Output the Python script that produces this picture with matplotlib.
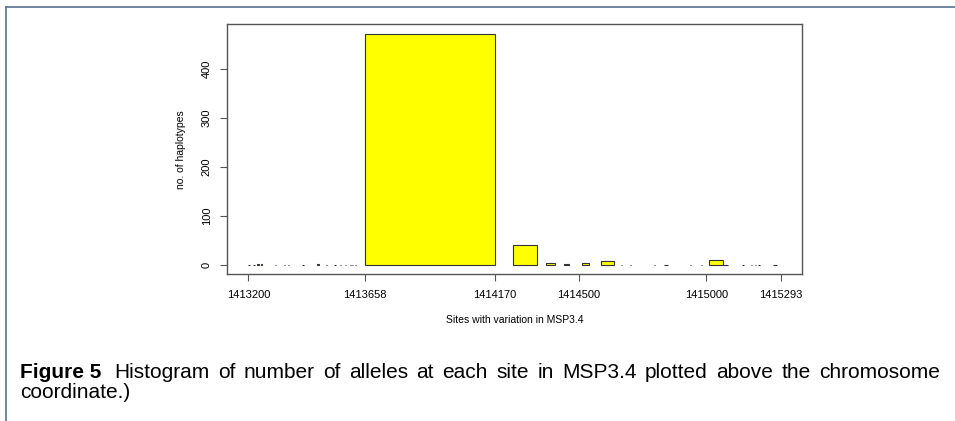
import matplotlib
matplotlib.use("Agg")
import matplotlib.pyplot as plt
from matplotlib.lines import Line2D

# chromosome coordinate of each site (bar start / end) and no. of haplotypes
site_start = [1413200, 1413220, 1413236, 1413248, 1413305, 1413340, 1413356,
              1413413, 1413470, 1413505, 1413538, 1413560, 1413581, 1413598,
              1413608, 1413618,
              1413658, 1414242, 1414370, 1414440, 1414512, 1414587, 1414665,
              1414700, 1414795, 1414835, 1414937, 1414980, 1415011, 1415068,
              1415142, 1415177, 1415190, 1415205, 1415261]
site_end = [1413205, 1413225, 1413242, 1413254, 1413310, 1413345, 1413361,
            1413418, 1413476, 1413510, 1413543, 1413565, 1413586, 1413603,
            1413613, 1413623,
            1414170, 1414335, 1414404, 1414462, 1414538, 1414637, 1414670,
            1414705, 1414800, 1414850, 1414942, 1414985, 1415068, 1415085,
            1415147, 1415182, 1415195, 1415210, 1415280]
haplotypes = [1, 1, 2, 3, 1, 1, 1, 1, 2, 1, 1, 1, 1, 1, 1, 1,
              472, 40, 5, 2, 4, 9, 1, 1, 1, 1, 1, 1, 10, 1, 1, 1, 1, 1, 1]

x_ticks = [1413200, 1413658, 1414170, 1414500, 1415000, 1415293]
y_ticks = [0, 100, 200, 300, 400]

caption_bold = "Figure 5"
caption_line1 = "Histogram of number of alleles at each site in MSP3.4 plotted above the chromosome"
caption_line2 = "coordinate.)"

W, H = 955, 421
plt.rcParams["font.family"] = ["Liberation Sans", "DejaVu Sans"]
fig = plt.figure(figsize=(W / 100, H / 100), dpi=100)

# page frame lines (top and left)
frame_col = "#5a7190"
fig.add_artist(Line2D([6 / W, 1], [1 - 7 / H, 1 - 7 / H], color=frame_col, lw=1.2))
fig.add_artist(Line2D([6 / W, 6 / W], [0, 1 - 7 / H], color=frame_col, lw=1.2))

ax = fig.add_axes([227 / W, 1 - 274.3 / H, (802 - 227) / W, (274.3 - 24.3) / H])

widths = [e - s for s, e in zip(site_start, site_end)]
ax.bar(site_start, haplotypes, width=widths, align="edge",
       color="#ffff00", edgecolor="#333333", linewidth=0.8)

xmin, xmax = min(site_start), max(x_ticks)
xpad = 0.04 * (xmax - xmin)
ax.set_xlim(xmin - xpad, xmax + xpad)
ypad = 0.04 * max(haplotypes)
ax.set_ylim(-ypad, max(haplotypes) + ypad)

for sp in ax.spines.values():
    sp.set_color("#555555")
    sp.set_linewidth(1.0)

ax.set_xticks(x_ticks)
ax.set_xticklabels([str(t) for t in x_ticks], fontsize=8)
ax.set_yticks(y_ticks)
ax.set_yticklabels([str(t) for t in y_ticks], fontsize=8, rotation=90, va="center")
ax.tick_params(direction="out", length=5, width=0.8, color="#555555", pad=6)

ax.set_xlabel("Sites with variation in MSP3.4", fontsize=7.5, labelpad=11)
ax.set_ylabel("no. of haplotypes", fontsize=7.5, labelpad=11)

# caption, first line justified between x=20 and x=940
cap_size = 15
y1 = 1 - 372 / H
y2 = 1 - 392 / H
renderer = fig.canvas.get_renderer()
words = [(caption_bold, "bold")] + [(w, "normal") for w in caption_line1.split()]
texts = []
for word, weight in words:
    t = fig.text(0, y1, word, fontsize=cap_size, fontweight=weight,
                 va="center", ha="left")
    texts.append(t)
word_w = [t.get_window_extent(renderer).width for t in texts]
left_px, right_px = 20, 940
first_gap = 1.5
gap = (right_px - left_px - sum(word_w)) / (len(texts) - 1 + first_gap - 1)
x = left_px
for i, t in enumerate(texts):
    t.set_x(x / W)
    x += word_w[i] + gap * (first_gap if i == 0 else 1.0)
fig.text(20 / W, y2, caption_line2, fontsize=cap_size, va="center", ha="left")

fig.savefig("out.png", dpi=100)
